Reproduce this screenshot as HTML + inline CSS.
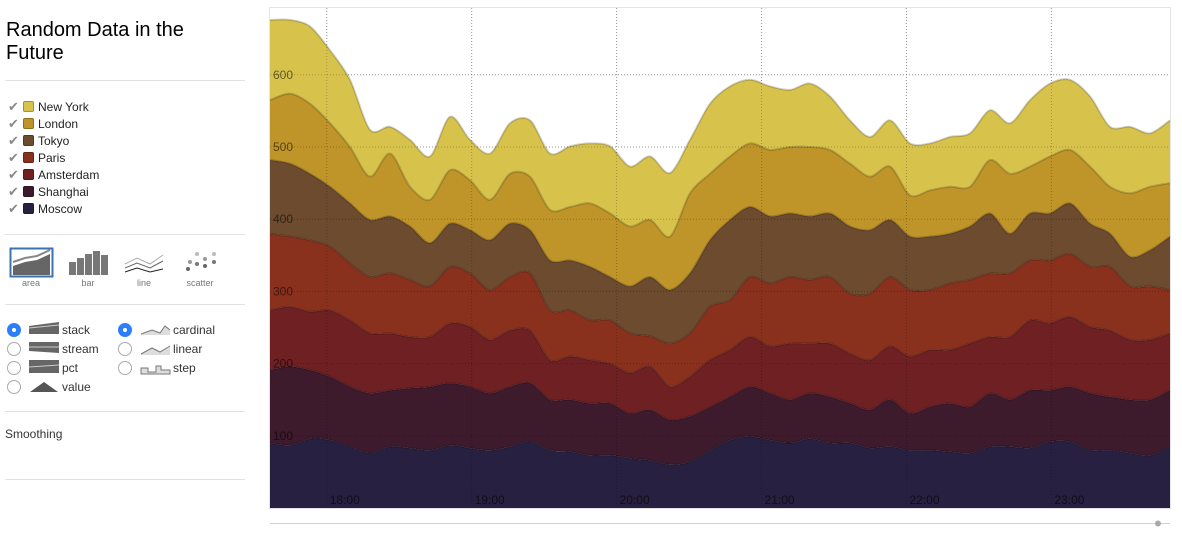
<!DOCTYPE html>
<html><head><meta charset="utf-8"><style>
body{margin:0;width:1182px;height:540px;background:#fff;font-family:"Liberation Sans",Arial,sans-serif;position:relative;overflow:hidden}
.abs{position:absolute}
.hr{position:absolute;left:5px;width:240px;height:1px;background:#e2e2e2}
.leg{position:absolute;left:8px;font-size:12px;color:#222;height:17px;line-height:17px}
.leg .ck{color:#888;display:inline-block;width:15px;font-size:13px}
.leg .sw{display:inline-block;width:11px;height:11px;border-radius:2px;vertical-align:-1px;margin-right:4px;box-shadow:inset 0 0 0 1px rgba(0,0,0,.25)}
.rl{position:absolute;font-size:9px;color:#777;text-align:center;width:50px}
.radio{position:absolute;width:12px;height:12px;border-radius:50%;border:1px solid #aaa;background:#fff}
.radio.on{background:#2d7ff9;border-color:#2d7ff9}
.radio.on::after{content:"";position:absolute;left:4px;top:4px;width:4px;height:4px;border-radius:50%;background:#fff}
.ol{position:absolute;font-size:12px;color:#333}
</style></head><body>
<div class="abs" style="left:6px;top:19px;font-size:20px;line-height:23px;color:#000">Random Data in the<br>Future</div>
<div class="hr" style="top:80px"></div>
<div>
<div class="leg" style="top:98px"><span class="ck">✔</span><span class="sw" style="background:#d7c34c"></span>New York</div>
<div class="leg" style="top:115px"><span class="ck">✔</span><span class="sw" style="background:#bf9428"></span>London</div>
<div class="leg" style="top:132px"><span class="ck">✔</span><span class="sw" style="background:#6c4b2e"></span>Tokyo</div>
<div class="leg" style="top:149px"><span class="ck">✔</span><span class="sw" style="background:#8a311e"></span>Paris</div>
<div class="leg" style="top:166px"><span class="ck">✔</span><span class="sw" style="background:#6e2023"></span>Amsterdam</div>
<div class="leg" style="top:183px"><span class="ck">✔</span><span class="sw" style="background:#3e1a2d"></span>Shanghai</div>
<div class="leg" style="top:200px"><span class="ck">✔</span><span class="sw" style="background:#282040"></span>Moscow</div>
</div>
<div class="hr" style="top:234px"></div>
<svg class="abs" style="left:0;top:244px" width="250" height="50">
<g><rect x="10.5" y="4.5" width="42" height="28" fill="none" stroke="#3b73af" stroke-width="2"/><path d="M13 22 L25 18 L37 16 L50 10 L50 31 L13 31Z" fill="#666"/><path d="M13 18 L25 14 L37 12 L50 6" stroke="#888" fill="none" stroke-width="2"/></g>
<g fill="#777"><rect x="69" y="18" width="7" height="13"/><rect x="77" y="14" width="7" height="17"/><rect x="85" y="10" width="7" height="21"/><rect x="93" y="7" width="7" height="24"/><rect x="101" y="11" width="7" height="20"/></g>
<g fill="none" stroke-width="1"><path d="M125 20 L137 14 L150 20 L163 11" stroke="#aaa"/><path d="M125 24 L137 19 L150 24 L163 17" stroke="#666"/><path d="M125 28 L137 24 L150 28 L163 25" stroke="#222"/></g>
<g><circle cx="197" cy="10" r="2" fill="#bbb"/><circle cx="214" cy="10" r="2" fill="#bbb"/><circle cx="205" cy="15" r="2" fill="#999"/><circle cx="190" cy="18" r="2" fill="#999"/><circle cx="197" cy="20" r="2" fill="#777"/><circle cx="214" cy="18" r="2" fill="#777"/><circle cx="205" cy="22" r="2" fill="#666"/><circle cx="188" cy="25" r="2" fill="#666"/></g>
</svg>
<div class="rl" style="left:6px;top:278px">area</div><div class="rl" style="left:63px;top:278px">bar</div><div class="rl" style="left:119px;top:278px">line</div><div class="rl" style="left:175px;top:278px">scatter</div>
<div class="hr" style="top:304px"></div>
<div class="radio on" style="left:7px;top:323px"></div>
<div class="radio" style="left:7px;top:342px"></div>
<div class="radio" style="left:7px;top:361px"></div>
<div class="radio" style="left:7px;top:380px"></div>
<div class="radio on" style="left:118px;top:323px"></div>
<div class="radio" style="left:118px;top:342px"></div>
<div class="radio" style="left:118px;top:361px"></div>
<svg class="abs" style="left:0;top:320px" width="250" height="80">
<path d="M29 6 L59 2 L59 14 L29 14Z" fill="#666"/><path d="M29 8 L59 5" stroke="#ccc"/>
<path d="M29 22 L59 22 L59 33 L29 31Z" fill="#666"/><path d="M29 27 L59 27" stroke="#ccc"/>
<path d="M29 40 L59 40 L59 53 L29 53Z" fill="#666"/><path d="M29 47 L59 45" stroke="#ccc"/>
<path d="M30 72 L44 62 L58 72Z" fill="#555"/>
<path d="M141 14 L152 10 L160 13 L165 6 L170 10 L170 15 L141 15Z" fill="#ddd"/><path d="M141 14 L152 10 L160 13 L165 6 L170 10" stroke="#777" fill="none"/>
<path d="M141 34 L152 28 L160 32 L170 26 L170 35 L141 35Z" fill="#ddd"/><path d="M141 34 L152 28 L160 32 L170 26" stroke="#777" fill="none"/>
<path d="M141 54 L141 48 L148 48 L148 52 L156 52 L156 46 L161 46 L161 50 L170 50 L170 54Z" fill="#ddd" stroke="#777"/>
</svg>
<div class="ol" style="left:62px;top:323px">stack</div><div class="ol" style="left:62px;top:342px">stream</div><div class="ol" style="left:62px;top:361px">pct</div><div class="ol" style="left:62px;top:380px">value</div>
<div class="ol" style="left:173px;top:323px">cardinal</div><div class="ol" style="left:173px;top:342px">linear</div><div class="ol" style="left:173px;top:361px">step</div>
<div class="hr" style="top:411px"></div>
<div class="ol" style="left:5px;top:427px">Smoothing</div>
<div class="hr" style="top:479px"></div>

<svg id="chart" class="abs" style="left:0;top:0" width="1182" height="540"></svg>
<script>
const seriesNames=["Moscow","Shanghai","Amsterdam","Paris","Tokyo","London","New York"];
const fills=["#282040","#3e1a2d","#6e2023","#8a311e","#6c4b2e","#bf9428","#d7c34c"];
const moscow=[90,87,96,94,85,76,85,83,80,87,83,80,85,92,80,78,73,73,69,66,60,64,80,94,99,94,90,96,90,90,83,85,80,80,78,76,85,85,83,92,92,80,80,76,73,85];
const shanghai=[101,109,95,88,83,83,78,83,88,86,85,79,83,81,70,72,72,72,62,70,62,63,60,60,69,65,60,63,64,55,53,65,51,60,67,64,74,65,80,71,76,79,74,74,77,78];
const amsterdam=[83,83,81,92,92,83,79,71,69,83,83,74,78,73,55,60,60,55,56,60,46,55,65,65,69,65,78,69,74,69,69,74,79,79,74,88,78,87,97,93,97,92,92,83,83,79];
const paris=[106,97,99,88,79,78,83,79,70,78,74,69,74,79,69,64,55,60,55,42,60,60,74,69,83,87,92,88,92,83,92,96,92,83,92,88,88,88,83,87,87,83,88,74,74,60];
const tokyo=[102,101,92,83,83,79,79,74,60,60,60,69,74,60,69,69,74,60,65,82,74,83,92,111,97,93,88,88,88,93,88,79,74,74,69,74,83,55,65,65,70,60,46,41,50,74];
const london=[83,97,97,88,78,60,87,55,60,74,69,56,69,74,70,74,88,88,83,79,74,111,92,88,88,92,92,96,88,87,74,74,57,64,65,55,74,83,65,79,74,79,65,88,88,74];
const newYork=[111,102,107,101,93,65,37,65,60,74,56,64,70,78,78,84,83,93,83,88,88,74,97,97,88,88,79,88,74,60,55,64,72,65,69,74,69,70,92,101,97,97,83,92,74,87];
const yTicks=[100,200,300,400,500,600];
const xTickLabels=["18:00","19:00","20:00","21:00","22:00","23:00"];
const xTickMinutes=[1080,1140,1200,1260,1320,1380];
const startMinute=1056.5, endMinute=1429.1;

const L=270,R=1170,T=8,B=508,yMax=692.5;
const svg=document.getElementById('chart');
const NS='http://www.w3.org/2000/svg';
const data=[moscow,shanghai,amsterdam,paris,tokyo,london,newYork];
const n=moscow.length;
const xi=i=>L+i*(R-L)/(n-1);
const xm=m=>L+(m-startMinute)/(endMinute-startMinute)*(R-L);
const yv=v=>B-v/yMax*(B-T);
function mk(tag,attrs){const e=document.createElementNS(NS,tag);for(const k in attrs)e.setAttribute(k,attrs[k]);return e;}
function curve(pts){let d='';const t=0.7;
 for(let i=0;i<pts.length-1;i++){const p0=pts[Math.max(0,i-1)],p1=pts[i],p2=pts[i+1],p3=pts[Math.min(pts.length-1,i+2)];
  const c1=[p1[0]+(p2[0]-p0[0])*(1-t)/2/ (1),p1[1]+(p2[1]-p0[1])*(1-t)/2];
  const c2=[p2[0]-(p3[0]-p1[0])*(1-t)/2,p2[1]-(p3[1]-p1[1])*(1-t)/2];
  d+=' C'+c1[0].toFixed(1)+','+c1[1].toFixed(1)+' '+c2[0].toFixed(1)+','+c2[1].toFixed(1)+' '+p2[0].toFixed(1)+','+p2[1].toFixed(1);}
 return d;}
svg.appendChild(mk('rect',{x:L-0.5,y:T-0.5,width:R-L+1,height:B-T+1,fill:'none',stroke:'#e4e4e4'}));
// grid under (white area)
const cum=new Array(n).fill(0);
const layers=[];
for(let s=0;s<data.length;s++){const lo=cum.slice();for(let i=0;i<n;i++)cum[i]+=data[s][i];layers.push([lo,cum.slice()]);}
for(const m of xTickMinutes){svg.appendChild(mk('line',{x1:xm(m),x2:xm(m),y1:T,y2:B,stroke:'#c8c8c8','stroke-dasharray':'1,2'}));}
for(const v of yTicks){svg.appendChild(mk('line',{x1:L,x2:R,y1:yv(v),y2:yv(v),stroke:'#c8c8c8','stroke-dasharray':'1,2'}));}
for(let s=data.length-1;s>=0;s--){
 const [lo,hi]=layers[s];
 const top=hi.map((v,i)=>[xi(i),yv(v)]);
 const bot=lo.map((v,i)=>[xi(i),yv(v)]).reverse();
 const d='M'+top[0][0]+','+top[0][1].toFixed(1)+curve(top)+' L'+bot[0][0]+','+bot[0][1].toFixed(1)+curve(bot)+'Z';
 const p=mk('path',{d:d,fill:fills[s],stroke:'none'});
 
 
 svg.appendChild(p);
 const ln=mk('path',{d:'M'+top[0][0]+','+top[0][1].toFixed(1)+curve(top),fill:'none',stroke:'rgba(0,0,0,0.18)','stroke-width':2});
 
 
 svg.appendChild(ln);
}
for(const m of xTickMinutes){svg.appendChild(mk('line',{x1:xm(m),x2:xm(m),y1:T,y2:B,stroke:'rgba(0,0,0,0.25)','stroke-dasharray':'1,2'}));}
for(const v of yTicks){svg.appendChild(mk('line',{x1:L,x2:R,y1:yv(v),y2:yv(v),stroke:'rgba(0,0,0,0.25)','stroke-dasharray':'1,2'}));}
yTicks.forEach(v=>{const t=mk('text',{x:L+3,y:yv(v)+4,'font-size':12,fill:'rgba(0,0,0,0.55)','font-family':'Liberation Sans, sans-serif'});t.textContent=v;
 
 
 svg.appendChild(t);});
xTickLabels.forEach((lab,i)=>{const t=mk('text',{x:xm(xTickMinutes[i])+3,y:B-4,'font-size':12,fill:'rgba(0,0,0,0.6)','font-family':'Liberation Sans, sans-serif'});t.textContent=lab;
 
 
 svg.appendChild(t);});
const sl=mk('line',{x1:L,x2:R,y1:523.5,y2:523.5,stroke:'#d0d0d0'});


svg.appendChild(sl);
const h=mk('circle',{cx:1158,cy:523.5,r:3,fill:'#aaa'});


svg.appendChild(h);
</script>
</body></html>
